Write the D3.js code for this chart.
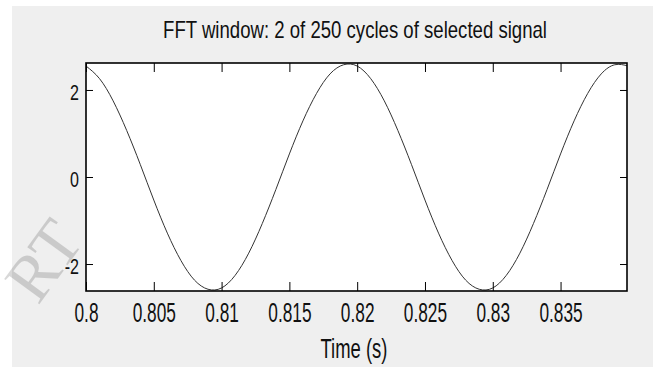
<!DOCTYPE html>
<html>
<head>
<meta charset="utf-8">
<script src="https://cdn.jsdelivr.net/npm/d3@7"></script>
<style>
  html, body { margin: 0; padding: 0; background: #fff; }
  svg { display: block; font-family: "Liberation Sans", Arial, sans-serif; }
</style>
</head>
<body>
<div id="chart"></div>
<script>
// chart data
const title = "FFT window: 2 of 250 cycles of selected signal";
const xLabel = "Time (s)";
const xTicks = [0.8, 0.805, 0.81, 0.815, 0.82, 0.825, 0.83, 0.835];
const yTicks = [-2, 0, 2];
const xDomain = [0.8, 0.8399];
const yDomain = [-2.62, 2.62];
// one sample every 1 ms, 0.800 .. 0.840 s
const sampleTimes = [
  0.800, 0.801, 0.802, 0.803, 0.804, 0.805, 0.806, 0.807, 0.808, 0.809,
  0.810, 0.811, 0.812, 0.813, 0.814, 0.815, 0.816, 0.817, 0.818, 0.819,
  0.820, 0.821, 0.822, 0.823, 0.824, 0.825, 0.826, 0.827, 0.828, 0.829,
  0.830, 0.831, 0.832, 0.833, 0.834, 0.835, 0.836, 0.837, 0.838, 0.839,
  0.840
];
const signal = [
   2.55,  2.26,  1.75,  1.07,  0.29, -0.53, -1.29, -1.92, -2.37, -2.58,
  -2.55, -2.26, -1.75, -1.07, -0.29,  0.53,  1.29,  1.92,  2.37,  2.58,
   2.55,  2.26,  1.75,  1.07,  0.29, -0.53, -1.29, -1.92, -2.37, -2.58,
  -2.55, -2.26, -1.75, -1.07, -0.29,  0.53,  1.29,  1.92,  2.37,  2.58,
   2.55
];

(function () {
    const width = 662, height = 367;
    const plot = {left: 86, right: 627, top: 63, bottom: 291};

    const svg = d3.select("#chart").append("svg")
        .attr("width", width)
        .attr("height", height);

    // figure background
    svg.append("rect")
        .attr("x", 12).attr("y", 6)
        .attr("width", 641).attr("height", height - 6)
        .attr("fill", "#efefef");

    const x = d3.scaleLinear().domain(xDomain).range([plot.left, plot.right]);
    const y = d3.scaleLinear().domain(yDomain).range([plot.bottom, plot.top]);

    svg.append("rect")
        .attr("x", plot.left).attr("y", plot.top)
        .attr("width", plot.right - plot.left)
        .attr("height", plot.bottom - plot.top)
        .attr("fill", "#fff");

    svg.append("clipPath").attr("id", "clip")
        .append("rect")
        .attr("x", plot.left).attr("y", plot.top - 1)
        .attr("width", plot.right - plot.left)
        .attr("height", plot.bottom - plot.top + 2);

    const line = d3.line()
        .x((d, i) => x(sampleTimes[i]))
        .y(d => y(d))
        .curve(d3.curveNatural);

    svg.append("path")
        .datum(signal)
        .attr("clip-path", "url(#clip)")
        .attr("fill", "none")
        .attr("stroke", "#333")
        .attr("stroke-width", 1)
        .attr("d", line);

    // plain labels with an ascii hyphen for negatives, like the original
    const plain = d => String(d);

    // axes, ticks pointing inwards on all four sides
    const xAxis = svg.append("g")
        .attr("transform", "translate(0," + plot.bottom + ")")
        .call(d3.axisBottom(x).tickValues(xTicks).tickSizeInner(-9).tickSizeOuter(0)
            .tickFormat(plain));
    xAxis.selectAll("text")
        .attr("y", 0).attr("dy", 0)
        .attr("transform", "translate(0,31) scale(0.64,1)")
        .attr("font-size", 27)
        .attr("fill", "#111");

    svg.append("g")
        .attr("transform", "translate(0," + plot.top + ")")
        .call(d3.axisTop(x).tickValues(xTicks).tickSizeInner(-9).tickSizeOuter(0)
            .tickFormat(""));

    const yAxis = svg.append("g")
        .attr("transform", "translate(" + plot.left + ",0)")
        .call(d3.axisLeft(y).tickValues(yTicks).tickSizeInner(-7).tickSizeOuter(0)
            .tickFormat(plain));
    yAxis.selectAll("text")
        .attr("x", 0).attr("dy", 0)
        .attr("transform", "translate(-7,9.5) scale(0.73,1)")
        .attr("font-size", 22)
        .attr("fill", "#111");

    svg.append("g")
        .attr("transform", "translate(" + plot.right + ",0)")
        .call(d3.axisRight(y).tickValues(yTicks).tickSizeInner(-7).tickSizeOuter(0)
            .tickFormat(""));

    svg.selectAll(".domain").remove();
    svg.selectAll(".tick line").attr("stroke", "#000");

    // box
    svg.append("rect")
        .attr("x", plot.left).attr("y", plot.top)
        .attr("width", plot.right - plot.left)
        .attr("height", plot.bottom - plot.top)
        .attr("fill", "none")
        .attr("stroke", "#000")
        .attr("stroke-width", 1.6);

    // squeeze a label into the width it has in the picture
    function fitText(text, cx, cy, w) {
        const n = text.node().getComputedTextLength();
        text.attr("text-anchor", "middle")
            .attr("transform", "translate(" + cx + "," + cy + ") scale(" + (w / n) + ",1)");
    }

    const t = svg.append("text")
        .attr("font-size", 23)
        .attr("fill", "#111")
        .text(title);
    fitText(t, 355, 38, 384);

    const xl = svg.append("text")
        .attr("font-size", 27)
        .attr("fill", "#111")
        .text(xLabel);
    fitText(xl, 354, 358, 67);

    // faint watermark in the lower left corner, drawn last so nothing hides it
    svg.append("text")
        .attr("transform", "translate(38,306) rotate(-54)")
        .attr("font-family", "'Liberation Serif', 'DejaVu Serif', serif")
        .attr("font-size", 66)
        .attr("fill", "#000")
        .attr("opacity", 0.15)
        .text("RT");
})();
</script>
</body>
</html>
